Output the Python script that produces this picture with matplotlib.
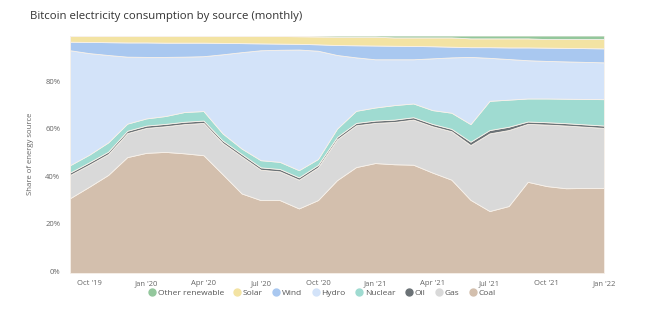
import numpy as np
import matplotlib
matplotlib.use('Agg')
from matplotlib import pyplot as plt
from matplotlib import transforms as mtrans

plt.rcParams['font.family'] = ['Open Sans', 'DejaVu Sans']

# monthly points, Sep 2019 .. Jan 2022
months = list(range(29))
tick_pos = [1, 4, 7, 10, 13, 16, 19, 22, 25, 28]
tick_labels = ["Oct '19", "Jan '20", "Apr '20", "Jul '20", "Oct '20",
               "Jan '21", "Apr '21", "Jul '21", "Oct '21", "Jan '22"]

# shares in %
coal = [31.5, 36.3, 41.3, 48.8, 50.6, 51.0, 50.4, 49.6, 41.6, 33.5, 30.7, 30.7, 27.2, 30.7,
        39.1, 44.6, 46.3, 45.8, 45.6, 42.3, 39.3, 30.8, 26.1, 28.2, 38.4, 36.6, 35.7, 35.8, 35.8]
gas = [9.8, 9.3, 8.8, 10.1, 10.5, 10.8, 12.3, 13.6, 13.2, 15.6, 12.8, 12.1, 12.1, 13.8,
       17.2, 17.6, 16.9, 17.8, 19.0, 19.5, 20.4, 23.1, 32.7, 32.0, 24.4, 25.9, 26.4, 25.8, 25.3]
oil = [1.0, 1.0, 1.0, 1.0, 1.0, 1.0, 1.0, 1.0, 1.0, 1.0, 1.0, 1.0, 1.0, 1.0,
       1.0, 1.0, 1.0, 1.0, 1.0, 1.0, 1.0, 1.4, 1.4, 1.4, 1.0, 1.0, 1.0, 1.0, 1.0]
nuclear = [3.1, 3.2, 3.9, 3.0, 3.0, 3.3, 4.1, 4.0, 3.0, 2.3, 3.0, 3.0, 3.0, 2.5,
           3.5, 5.1, 5.5, 6.1, 5.8, 5.8, 6.8, 7.4, 12.3, 11.4, 9.7, 10.0, 10.3, 10.7, 11.1]
hydro = [48.4, 42.8, 36.8, 28.2, 25.9, 24.9, 23.3, 23.1, 33.3, 40.6, 46.3, 47.2, 50.8, 45.6,
         31.0, 22.5, 20.3, 19.3, 18.6, 21.8, 23.3, 28.3, 18.1, 17.1, 16.1, 15.8, 15.7, 15.6, 15.5]
wind = [3.6, 4.7, 5.4, 6.0, 6.1, 6.0, 5.9, 5.7, 4.8, 3.8, 2.9, 2.6, 2.4, 2.7,
        4.2, 5.1, 5.8, 5.7, 5.6, 5.1, 4.5, 4.1, 4.5, 4.9, 5.4, 5.6, 5.7, 5.8, 5.9]
solar = [2.4, 2.5, 2.6, 2.7, 2.7, 2.8, 2.8, 2.8, 2.9, 3.0, 3.1, 3.2, 3.2, 3.3,
         3.5, 3.6, 3.7, 3.5, 3.6, 3.7, 3.9, 3.7, 3.7, 3.8, 3.8, 3.6, 3.7, 3.8, 3.9]
other = [0.2, 0.2, 0.2, 0.2, 0.2, 0.2, 0.2, 0.2, 0.2, 0.2, 0.2, 0.2, 0.3, 0.4,
         0.5, 0.5, 0.5, 0.8, 0.8, 0.8, 0.8, 1.2, 1.2, 1.2, 1.2, 1.5, 1.5, 1.5, 1.5]

names = ['Coal', 'Gas', 'Oil', 'Nuclear', 'Hydro', 'Wind', 'Solar', 'Other renewable']
colors = ['#d3bfad', '#d9d9d9', '#6b7276', '#9fdbd1', '#d3e3f9', '#a9c8f0', '#f3e3a3', '#93c79c']
series = [coal, gas, oil, nuclear, hydro, wind, solar, other]

fig = plt.figure(figsize=(6.63, 3.29), dpi=100)
ax = fig.add_axes([0.1056, 0.1702, 0.8054, 0.7218])

data = np.vstack(series)
# normalise so the stack ends at 100
data = data / data.sum(axis=0) * 100
polys = ax.stackplot(months, data, colors=colors, edgecolor='#f7f1ea', linewidth=0.6)

ax.set_xlim(0, 28)
ax.set_ylim(0, 100)
ax.set_xticks(tick_pos)
ax.set_xticklabels(tick_labels)
ax.set_yticks([0, 20, 40, 60, 80])
ax.set_yticklabels(['0%', '20%', '40%', '60%', '80%'])
ax.tick_params(axis='both', labelsize=5.5, colors='#666666', length=0)
ax.tick_params(axis='x', pad=5)
ax.tick_params(axis='y', pad=7)
# highcharts puts the y labels a touch above the tick
shift = mtrans.ScaledTranslation(0, 2 / 100, fig.dpi_scale_trans)
for lab in ax.get_yticklabels():
    lab.set_transform(lab.get_transform() + shift)
for s in ax.spines.values():
    s.set_visible(False)

ax.set_ylabel('Share of energy source', fontsize=5.6, color='#666666', labelpad=8)

fig.text(0.045, 0.95, 'Bitcoin electricity consumption by source (monthly)',
         fontsize=8.2, color='#333333', ha='left', va='center')

# legend, reverse order of stack
handles = []
for n, c in zip(names[::-1], colors[::-1]):
    h, = ax.plot([], [], 'o', color=c, markersize=5, label=n)
    handles.append(h)
fig.legend(handles=handles, loc='center', bbox_to_anchor=(0.485, 0.11), ncol=8,
           frameon=False, fontsize=6, handletextpad=0.2, columnspacing=1.1,
           labelcolor='#555555', handlelength=1.0)

plt.savefig('out.png', dpi=100)
